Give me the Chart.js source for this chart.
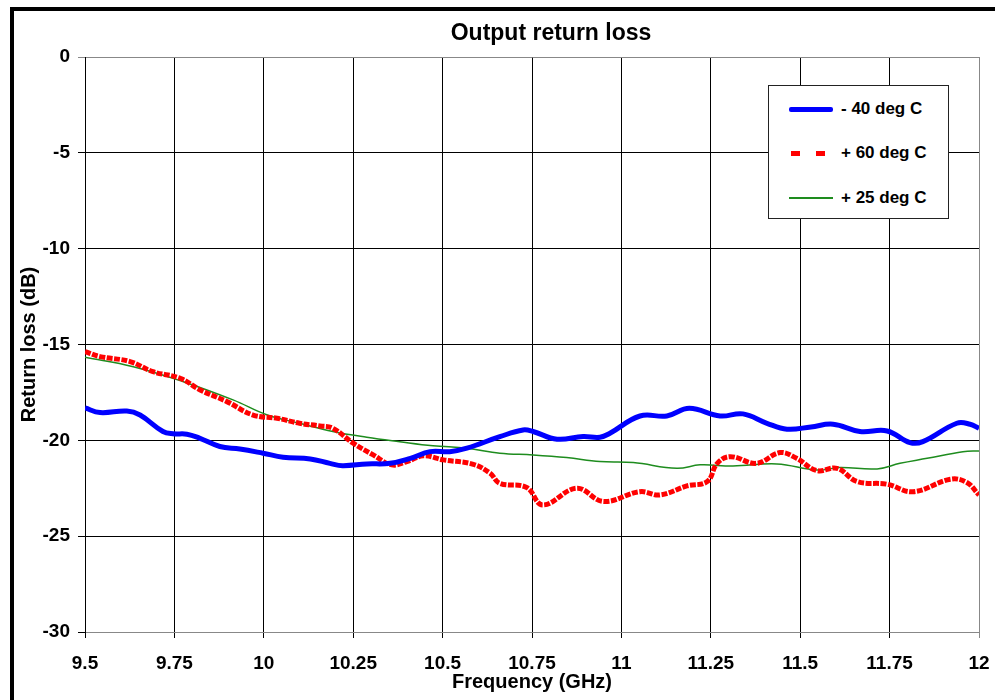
<!DOCTYPE html>
<html>
<head>
<meta charset="utf-8">
<script src="https://cdn.jsdelivr.net/npm/chart.js@4"></script>
<style>
  html, body { margin: 0; padding: 0; overflow: hidden; background: #fff; }
  #frame { position: absolute; left: 10px; top: 7px; border: 4px solid #000; width: 1100px; height: 700px; }
  #legend { position: absolute; left: 768px; top: 85px; width: 179px; height: 132px; border: 1px solid #222; background: #fff;
            font: bold 17px 'Liberation Sans', Arial, sans-serif; color: #000; }
  .row { position: absolute; left: 0; height: 20px; line-height: 20px; }
  .row span { position: absolute; left: 72px; white-space: nowrap; }
  .swatch { position: absolute; left: 20px; width: 44px; }
</style>
</head>
<body>
<div id="frame"><canvas id="rlChart" width="1100" height="700"></canvas></div>
<div id="legend">
  <div class="row" style="top:13px"><div class="swatch" style="top:8px;height:5px;background:#0000ff;border-radius:2px"></div><span>- 40 deg C</span></div>
  <div class="row" style="top:57px">
    <div class="swatch" style="top:8px;height:5px">
      <div style="position:absolute;left:2px;width:9px;height:5px;background:#ff0000"></div>
      <div style="position:absolute;left:27px;width:9px;height:5px;background:#ff0000"></div>
    </div><span>+ 60 deg C</span></div>
  <div class="row" style="top:102px"><div class="swatch" style="top:9px;height:2px;background:#1e8c1e"></div><span>+ 25 deg C</span></div>
</div>
<script>
// values
var xTicks = [9.5, 9.75, 10, 10.25, 10.5, 10.75, 11, 11.25, 11.5, 11.75, 12];
var xTickLabels = ['9.5', '9.75', '10', '10.25', '10.5', '10.75', '11', '11.25', '11.5', '11.75', '12'];
var yTicks = [0, -5, -10, -15, -20, -25, -30];

var coldFreq = [9.5, 9.542, 9.617, 9.654, 9.718, 9.746, 9.785, 9.82, 9.877, 9.933, 9.998, 10.054, 10.13, 10.185, 10.22,
    10.288, 10.353, 10.41, 10.465, 10.52, 10.568, 10.66, 10.725, 10.753, 10.82, 10.893, 10.94, 10.968, 11.052, 11.127,
    11.19, 11.276, 11.34, 11.407, 11.463, 11.53, 11.592, 11.667, 11.743, 11.807, 11.843, 11.938, 11.975, 12.0];
var coldLoss = [-18.31, -18.55, -18.47, -18.68, -19.54, -19.66, -19.68, -19.88, -20.32, -20.45, -20.67, -20.88, -20.97, -21.2, -21.32,
    -21.23, -21.2, -20.94, -20.59, -20.59, -20.41, -19.81, -19.46, -19.54, -19.94, -19.8, -19.84, -19.63, -18.73, -18.73,
    -18.33, -18.73, -18.62, -19.11, -19.42, -19.3, -19.16, -19.54, -19.51, -20.12, -20.07, -19.11, -19.16, -19.37];

var hotFreq = [9.5, 9.542, 9.626, 9.69, 9.766, 9.822, 9.897, 9.97, 10.037, 10.1, 10.157, 10.193, 10.25, 10.306, 10.358,
    10.4, 10.446, 10.502, 10.586, 10.633, 10.66, 10.735, 10.78, 10.875, 10.95, 11.052, 11.108, 11.183, 11.24, 11.268,
    11.305, 11.378, 11.444, 11.49, 11.547, 11.603, 11.659, 11.743, 11.816, 11.92, 11.966, 12.0];
var hotLoss = [-15.37, -15.63, -15.89, -16.42, -16.76, -17.37, -17.98, -18.68, -18.85, -19.11, -19.25, -19.37, -20.15, -20.76, -21.28,
    -21.11, -20.81, -21.02, -21.25, -21.72, -22.24, -22.46, -23.37, -22.5, -23.19, -22.68, -22.85, -22.38, -22.15, -21.2,
    -20.85, -21.2, -20.64, -20.94, -21.58, -21.46, -22.15, -22.29, -22.68, -22.03, -22.2, -22.85];

var roomFreq = [9.5, 9.635, 9.775, 9.914, 10.01, 10.1, 10.193, 10.288, 10.38, 10.473, 10.568, 10.66, 10.753, 10.847,
    10.94, 11.033, 11.155, 11.22, 11.312, 11.435, 11.547, 11.611, 11.715, 11.779, 11.855, 11.955, 12.0];
var roomLoss = [-15.67, -16.16, -16.94, -17.89, -18.68, -19.11, -19.54, -19.84, -20.07, -20.28, -20.41, -20.67, -20.76, -20.9,
    -21.11, -21.16, -21.46, -21.28, -21.34, -21.23, -21.55, -21.42, -21.49, -21.2, -20.94, -20.59, -20.55];

function toPoints(fs, vs) {
    return fs.map(function (f, i) { return { x: f, y: vs[i] }; });
}

var fontFamily = "'Liberation Sans', Arial, sans-serif";

var ctx = document.getElementById('rlChart').getContext('2d');
var rlChart = new Chart(ctx, {
    type: 'line',
    data: {
        datasets: [{
            label: '- 40 deg C',
            data: toPoints(coldFreq, coldLoss),
            borderColor: '#0000ff',
            borderWidth: 5,
            pointRadius: 0,
            tension: 0.4
        }, {
            label: '+ 60 deg C',
            data: toPoints(hotFreq, hotLoss),
            borderColor: '#ff0000',
            borderWidth: 5,
            borderDash: [6, 1.5],
            pointRadius: 0,
            tension: 0.4
        }, {
            label: '+ 25 deg C',
            data: toPoints(roomFreq, roomLoss),
            borderColor: '#1e8c1e',
            borderWidth: 1.5,
            pointRadius: 0,
            tension: 0.4
        }]
    },
    options: {
        responsive: false,
        animation: false,
        layout: { padding: { left: 3, right: 29, top: 0, bottom: 13 } },
        plugins: {
            legend: { display: false },
            tooltip: { enabled: false },
            title: {
                display: true,
                text: 'Output return loss',
                color: '#000',
                font: { family: fontFamily, size: 23, weight: 'bold', lineHeight: 1.2 },
                padding: { top: 8.5, bottom: 9.9 }
            }
        },
        scales: {
            x: {
                type: 'linear',
                min: 9.5,
                max: 12,
                afterBuildTicks: function (s) { s.ticks = xTicks.map(function (v) { return { value: v }; }); },
                afterFit: function (s) { s.height = 66; },
                ticks: {
                    color: '#000',
                    padding: 14,
                    maxRotation: 0,
                    font: { family: fontFamily, size: 19, weight: 'bold' },
                    callback: function (v, i) { return xTickLabels[i]; }
                },
                grid: {
                    color: function (c) { return c.tick && c.tick.value === 12 ? '#888' : '#000'; },
                    lineWidth: 1,
                    tickLength: 6
                },
                border: { color: '#888' },
                title: {
                    display: true,
                    text: 'Frequency (GHz)',
                    color: '#000',
                    font: { family: fontFamily, size: 20, weight: 'bold', lineHeight: 1.2 }
                }
            },
            y: {
                min: -30,
                max: 0,
                afterBuildTicks: function (s) { s.ticks = yTicks.map(function (v) { return { value: v }; }); },
                afterFit: function (s) { s.width = 68; },
                ticks: {
                    color: '#000',
                    padding: 8,
                    font: { family: fontFamily, size: 19, weight: 'bold' }
                },
                grid: {
                    color: function (c) { return c.tick && c.tick.value === 0 ? '#888' : '#000'; },
                    lineWidth: 1,
                    tickLength: 7
                },
                border: { color: '#000' },
                title: {
                    display: true,
                    text: 'Return loss (dB)',
                    color: '#000',
                    padding: 0,
                    font: { family: fontFamily, size: 20, weight: 'bold', lineHeight: 1.2 }
                }
            },
            // empty right-hand strip, keeps the title centred where the original has it
            yRight: {
                position: 'right',
                display: true,
                grid: { display: false },
                border: { display: false },
                ticks: { display: false },
                afterFit: function (s) { s.width = 106; }
            }
        }
    }
});
</script>
</body>
</html>
